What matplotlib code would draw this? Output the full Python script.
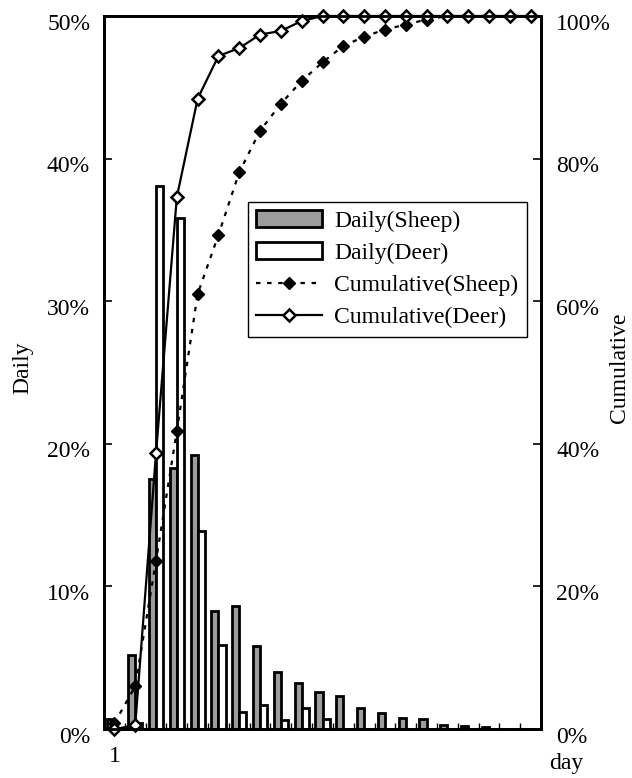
import matplotlib
matplotlib.use("Agg")
from matplotlib import pyplot as plt
from matplotlib.ticker import FixedLocator, PercentFormatter
from matplotlib.transforms import ScaledTranslation

plt.rcParams['font.family'] = ['Liberation Serif', 'DejaVu Serif']

# day 1..21
days = list(range(1, 22))

# daily share (%)
daily_sheep = [0.7, 5.2, 17.5, 18.3, 19.2, 8.3, 8.6, 5.8, 4.0, 3.2, 2.6,
               2.3, 1.5, 1.1, 0.77, 0.68, 0.3, 0.23, 0.14, 0.0, 0.0]
daily_deer = [0.0, 0.4, 38.1, 35.8, 13.9, 5.9, 1.2, 1.7, 0.65, 1.5, 0.7,
              0.0, 0.0, 0.0, 0.0, 0.0, 0.0, 0.0, 0.0, 0.0, 0.0]

# cumulative share (%)
cum_sheep = [0.8, 6.0, 23.6, 41.8, 61.0, 69.3, 78.1, 83.9, 87.7, 90.9, 93.5,
             95.8, 97.1, 98.1, 98.8, 99.5, 100, 100, 100, 100, 100]
cum_deer = [0.0, 0.5, 38.7, 74.6, 88.4, 94.4, 95.5, 97.4, 97.9, 99.3, 100,
            100, 100, 100, 100, 100, 100, 100, 100, 100, 100]

FS = 17


def main():
    fig = plt.figure(figsize=(6.32, 7.78), dpi=100)
    ax = fig.add_axes([104 / 632, 1 - 729 / 778, 437 / 632, 713 / 778])
    ax2 = ax.twinx()

    w = 0.34
    x_s = [d - w / 2 for d in days]
    x_d = [d + w / 2 for d in days]
    b1 = ax.bar(x_s, daily_sheep, width=w, color="#9c9c9c", edgecolor="black",
                linewidth=2, label="Daily(Sheep)")
    b2 = ax.bar(x_d, daily_deer, width=w, color="white", edgecolor="black",
                linewidth=2, label="Daily(Deer)")

    l1, = ax2.plot(days, cum_sheep, c="black", linewidth=1.6, linestyle=(0, (2, 3)),
                   marker="D", markersize=6, markerfacecolor="black",
                   label="Cumulative(Sheep)", clip_on=False)
    l2, = ax2.plot(days, cum_deer, c="black", linewidth=1.6, marker="D",
                   markersize=6, markerfacecolor="white", markeredgewidth=1.8,
                   label="Cumulative(Deer)", clip_on=False)

    ax.set_xlim(0.5, 21.5)
    ax.set_ylim(0, 50)
    ax2.set_ylim(0, 100)
    ax.yaxis.set_major_locator(FixedLocator([0, 10, 20, 30, 40, 50]))
    ax2.yaxis.set_major_locator(FixedLocator([0, 20, 40, 60, 80, 100]))
    ax.yaxis.set_major_formatter(PercentFormatter(decimals=0))
    ax2.yaxis.set_major_formatter(PercentFormatter(decimals=0))

    ax.set_xticks([1])
    ax.set_xticklabels(["1"])
    ax.set_xticks([d + 0.5 for d in days[:-1]], minor=True)
    ax.tick_params(axis="x", which="major", length=0, pad=12, labelsize=FS)
    ax.tick_params(axis="x", which="minor", direction="in", length=4, width=1)
    ax.tick_params(axis="y", direction="in", length=6, width=1.2, labelsize=FS, pad=10)
    ax2.tick_params(axis="y", direction="in", length=6, width=1.2, labelsize=FS, pad=11)

    for a in (ax, ax2):
        for s in a.spines.values():
            s.set_linewidth(2)

    fig.text(23 / 632, 1 - 368 / 778, "Daily", fontsize=FS, rotation=90,
             ha="center", va="center")
    fig.text(619 / 632, 1 - 368 / 778, "Cumulative", fontsize=FS, rotation=90,
             ha="center", va="center")
    fig.text(566 / 632, 1 - 763 / 778, "day", fontsize=FS, ha="center", va="center")

    leg = ax2.legend(handles=[b1, b2, l1, l2], loc="upper left",
                     bbox_to_anchor=(248 / 632, 1 - 202 / 778),
                     bbox_transform=fig.transFigure, borderaxespad=0,
                     fontsize=FS, handlelength=2.8, fancybox=False,
                     framealpha=1, edgecolor="black", labelspacing=0.45,
                     handletextpad=0.5, borderpad=0.35)
    leg.get_frame().set_linewidth(1)

    # y tick labels sit a little below their ticks in the original
    fig.canvas.draw()
    shift = ScaledTranslation(0, -4 / 72, fig.dpi_scale_trans)
    for lab in ax.get_yticklabels() + ax2.get_yticklabels():
        lab.set_transform(lab.get_transform() + shift)

    fig.savefig("out.png", dpi=100)


if __name__ == "__main__":
    main()
